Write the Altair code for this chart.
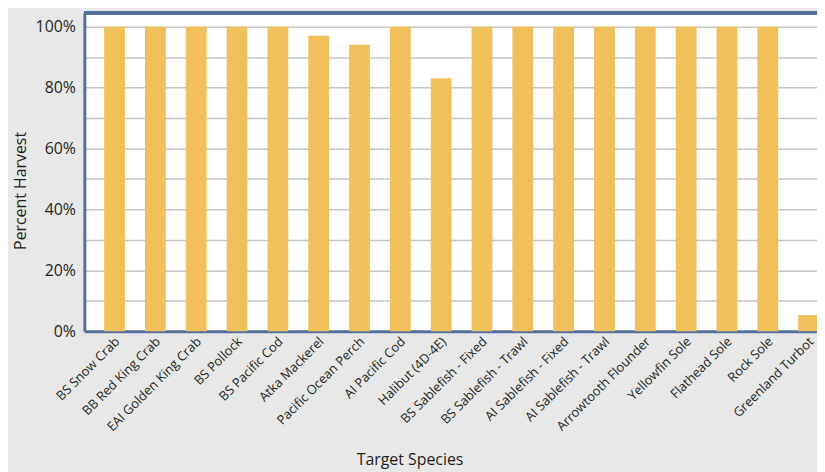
import altair as alt
import pandas as pd

species = [
    "BS Snow Crab", "BB Red King Crab", "EAI Golden King Crab", "BS Pollock",
    "BS Pacific Cod", "Atka Mackerel", "Pacific Ocean Perch", "AI Pacific Cod",
    "Halibut (4D-4E)", "BS Sablefish - Fixed", "BS Sablefish - Trawl",
    "AI Sablefish - Fixed", "AI Sablefish - Trawl", "Arrowtooth Flounder",
    "Yellowfin Sole", "Flathead Sole", "Rock Sole", "Greenland Turbot",
]
harvest = [1.00, 1.00, 1.00, 1.00, 1.00, 0.971, 0.941, 1.00, 0.831,
           1.00, 1.00, 1.00, 1.00, 1.00, 1.00, 1.00, 1.00, 0.053]
grid_values = [0.0, 0.1, 0.2, 0.3, 0.4, 0.5, 0.6, 0.7, 0.8, 0.9, 1.0]

df = pd.DataFrame({"species": species, "harvest": harvest})

BORDER = "#56709e"
BAR = "#f0c15b"
TEXT = "#231f20"
FONT = "Open Sans"

W = 739
H = 321
RANGE_W = 761

bars = alt.Chart(df).mark_bar(color=BAR).encode(
    x=alt.X(
        "species:N",
        sort=species,
        scale=alt.Scale(range=[0, RANGE_W], paddingInner=0.49, paddingOuter=0.485),
        axis=alt.Axis(
            title="Target Species",
            labelAngle=-45,
            labelAlign="right",
            labelBaseline="middle",
            labelPadding=8,
            labelOffset=3,
            labelFontSize=13,
            labelFont=FONT,
            labelColor=TEXT,
            labelOverlap=False,
            tickSize=0,
            domainColor=BORDER,
            domainWidth=3,
            titleFont=FONT,
            titleFontSize=16,
            titleFontWeight="normal",
            titleColor=TEXT,
            titleX=328,
            titleY=134,
            titleAlign="center",
            titleBaseline="alphabetic",
        ),
    ),
    y=alt.Y(
        "harvest:Q",
        scale=alt.Scale(domain=[0, 1.0456], nice=False),
        axis=alt.Axis(
            title="Percent Harvest",
            values=grid_values,
            labelExpr="round(datum.value*100) % 20 == 0 ? format(datum.value, '.0%') : ''",
            labelFont=FONT,
            labelFontSize=16,
            labelColor=TEXT,
            labelPadding=9,
            tickSize=0,
            grid=True,
            gridColor="#c6c6c6",
            gridWidth=1.5,
            domainColor=BORDER,
            domainWidth=3,
            titleFont=FONT,
            titleFontSize=16,
            titleFontWeight="normal",
            titleColor=TEXT,
            titleX=-64,
            titleY=179,
            titleAlign="center",
            titleBaseline="middle",
        ),
    ),
)

top_border = alt.Chart(df).mark_rule(color=BORDER, strokeWidth=3).encode(
    x=alt.value(0), x2=alt.value(RANGE_W), y=alt.value(0)
)

chart = alt.layer(bars, top_border).properties(
    width=W,
    height=H,
    autosize=alt.AutoSizeParams(type="none"),
    padding={"left": 77, "top": 3, "right": 0, "bottom": 140},
    background="#e8e8e8",
).configure_view(stroke=None, fill="white")

chart.save("out.html", embed_options={"renderer": "svg", "actions": False})
